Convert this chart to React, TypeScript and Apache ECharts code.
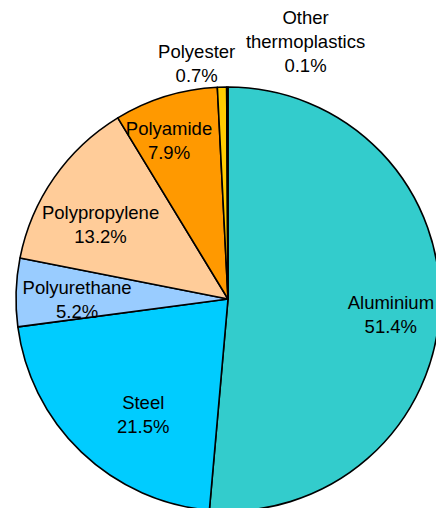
import React, { useEffect, useRef } from "react";
import * as echarts from "echarts";

const categories = [
  "Aluminium",
  "Steel",
  "Polyurethane",
  "Polypropylene",
  "Polyamide",
  "Polyester",
  "Other\nthermoplastics",
];
const values = [51.4, 21.5, 5.2, 13.2, 7.9, 0.7, 0.1];
const colors = ["#33CCCC", "#00CCFF", "#99CCFF", "#FFCC99", "#FF9900", "#FFCC00", "#333333"];
// label nudges (px) from the ring's mid-point, to mimic the original placement
const labelOffsets: [number, number][] = [
  [10, 9],
  [21, 5],
  [2, 5],
  [-2, 13],
  [-14, -12],
  [-27, -83],
  [78, -105],
];

export default function App() {
  const ref = useRef<HTMLDivElement>(null);
  useEffect(() => {
    if (!ref.current) return;
    const chart = echarts.init(ref.current, undefined, { renderer: "svg" });
    const center = [228, 299];
    const pieData = categories.map((name, i) => ({
      name,
      value: values[i],
      itemStyle: { color: colors[i] },
    }));
    const labelData = categories.map((name, i) => ({
      name,
      value: values[i],
      label: { offset: labelOffsets[i] },
    }));
    chart.setOption({
      animation: false,
      backgroundColor: "#ffffff",
      series: [
        {
          type: "pie",
          center,
          radius: [0, 212],
          startAngle: 90,
          clockwise: true,
          silent: true,
          label: { show: false },
          labelLine: { show: false },
          itemStyle: { borderColor: "#000000", borderWidth: 1.6 },
          emphasis: { disabled: true },
          data: pieData,
        },
        {
          type: "pie",
          center,
          radius: [88, 212],
          startAngle: 90,
          clockwise: true,
          silent: true,
          itemStyle: { color: "rgba(0,0,0,0)", borderWidth: 0 },
          labelLine: { show: false },
          emphasis: { disabled: true },
          label: {
            show: true,
            position: "inside",
            color: "#000000",
            fontFamily: "Liberation Sans, Arial, sans-serif",
            fontSize: 18.5,
            lineHeight: 24,
            align: "center",
            formatter: (p: any) => `${p.name}\n${Number(p.value).toFixed(1)}%`,
          },
          data: labelData,
        },
      ],
    });
    return () => chart.dispose();
  }, []);
  return (
    <div
      ref={ref}
      style={{ position: "absolute", left: 0, top: 0, width: 436, height: 508, background: "#fff" }}
    />
  );
}
